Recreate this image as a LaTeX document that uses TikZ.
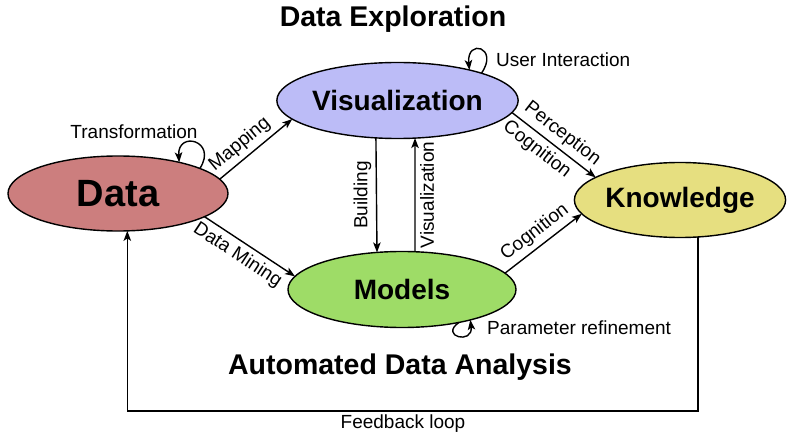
\documentclass[tikz,border=0pt]{standalone}
\usepackage{fontspec}
\setmainfont{Liberation Sans}
\usetikzlibrary{arrows.meta,shapes.geometric}
\definecolor{cdata}{HTML}{CC7E7E}
\definecolor{cvis}{HTML}{BCBCF7}
\definecolor{cknow}{HTML}{E6DF80}
\definecolor{cmod}{HTML}{9EDC67}
\begin{document}
\begin{tikzpicture}[x=1pt,y=-1pt,
  ell/.style={ellipse, draw, line width=1.4pt, inner sep=0pt, outer sep=0pt,
    font=\fontsize{28}{32}\selectfont\bfseries},
  lbl/.style={font=\fontsize{19}{22}\selectfont, inner sep=2pt},
  elbl/.style={font=\fontsize{19}{22}\selectfont, inner sep=4.5pt},
  ttl/.style={font=\fontsize{28.5}{32}\selectfont\bfseries, inner sep=0pt},
  arr/.style={-{Stealth[length=10pt,width=7.5pt,inset=2.5pt]}, line width=1.4pt}]
\useasboundingbox (0,0) rectangle (796,433);

\node[ell, fill=cdata, minimum width=220pt, minimum height=75pt,
  font=\fontsize{38}{42}\selectfont\bfseries] (data) at (118,193.5) {Data};
\node[ell, fill=cvis, minimum width=229pt, minimum height=76pt] (vis) at (397.5,100.5) {Visualization};
\node[ell, fill=cmod, minimum width=228pt, minimum height=76pt] (mod) at (402,289.5) {Models};
\node[ell, fill=cknow, minimum width=208pt, minimum height=75pt] (know) at (680,200) {Knowledge};

\node[ttl] (t1) at (393,19) {Data Exploration};
\node[ttl] (t2) at (400,367) {Automated Data Analysis};

% edges
\draw[arr] (data.8) -- node[elbl, pos=0.4, above, sloped] {Mapping} (vis.190);
\draw[arr] (data.-15) -- node[elbl, pos=0.45, below, sloped] {Data Mining} (mod.173);
\draw[arr] (vis.-6) -- node[elbl, pos=0.5, above, sloped] {Perception}
   node[elbl, pos=0.4, below, sloped] {Cognition} (know.165);
\draw[arr] (mod.9) -- node[elbl, pos=0.5, above, sloped] {Cognition} (know.188);
\draw[arr] (vis.240.4) -- node[elbl, midway, rotate=90, anchor=south] {Building} (mod.124.7);
\draw[arr] (mod.71.2) -- node[elbl, midway, rotate=90, anchor=north] {Visualization} (vis.-65.3);

% feedback
\coordinate (fb) at (400,411);
\draw[arr] (know.-64) |- (fb) -| (data.-76.5);
\node[lbl] (fbl) at (403,424) {Feedback loop};

% self loops
\draw[arr] (data.17) .. controls +(18,-28) and +(-2,-32) .. (data.27);
\node[lbl] (trl) at (134,132) {Transformation};
\draw[arr] (vis.18) .. controls +(18,-26) and +(-3,-32) .. (vis.23);
\node[lbl, anchor=west] (uil) at (494,60) {User Interaction};
\draw[arr] (mod.-30) .. controls +(-20,14) and +(3,25) .. (mod.-24);
\node[lbl, anchor=west] (prl) at (485,328) {Parameter refinement};
\end{tikzpicture}
\end{document}
